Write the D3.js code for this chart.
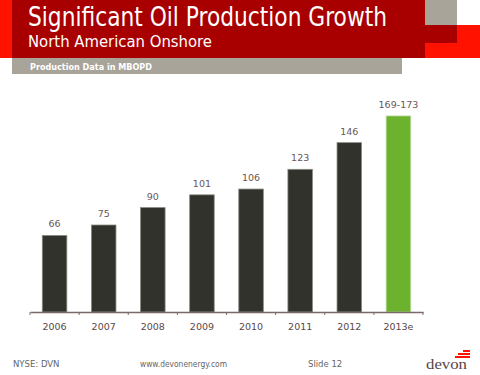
<!DOCTYPE html>
<html>
<head>
<meta charset="utf-8">
<script src="https://d3js.org/d3.v7.min.js"></script>
<style>
  body { margin: 0; background: #fff; }
  svg { display: block; font-family: "DejaVu Sans", Verdana, sans-serif; }
</style>
</head>
<body>
<div id="chart"></div>
<script>
// data (MBOPD)
var years = ["2006", "2007", "2008", "2009", "2010", "2011", "2012", "2013e"];
var production = [66, 75, 90, 101, 106, 123, 146, 169];
var labels = ["66", "75", "90", "101", "106", "123", "146", "169-173"];
var estimate = [false, false, false, false, false, false, false, true];

var width = 480, height = 375;

var svg = d3.select("#chart").append("svg")
    .attr("width", width)
    .attr("height", height);

// header blocks
svg.append("rect").attr("x", 0).attr("y", 0).attr("width", 12).attr("height", 58).attr("fill", "#ff1300");
svg.append("rect").attr("x", 425).attr("y", 25).attr("width", 55).attr("height", 33).attr("fill", "#ff1300");
svg.append("rect").attr("x", 425).attr("y", 0).attr("width", 32).attr("height", 25).attr("fill", "#a8a49a");
svg.append("rect").attr("x", 12).attr("y", 0).attr("width", 413).attr("height", 58).attr("fill", "#a80000");
svg.append("rect").attr("x", 425).attr("y", 25).attr("width", 32).attr("height", 18).attr("fill", "#a80000");
svg.append("rect").attr("x", 12).attr("y", 58).attr("width", 390).attr("height", 16).attr("fill", "#a8a49a");

svg.append("text")
    .attr("x", 28).attr("y", 26)
    .attr("fill", "#fff")
    .attr("font-family", "DejaVu Sans Condensed, DejaVu Sans, sans-serif")
    .attr("font-size", 26)
    .attr("textLength", 359).attr("lengthAdjust", "spacingAndGlyphs")
    .text("Significant Oil Production Growth");
svg.append("text")
    .attr("x", 28).attr("y", 47)
    .attr("fill", "#fff")
    .attr("font-family", "DejaVu Sans Condensed, DejaVu Sans, sans-serif")
    .attr("font-size", 16)
    .attr("textLength", 184).attr("lengthAdjust", "spacingAndGlyphs")
    .text("North American Onshore");
svg.append("text")
    .attr("x", 30).attr("y", 70)
    .attr("fill", "#fff")
    .attr("font-size", 9.5)
    .attr("font-weight", "bold")
    .attr("textLength", 122).attr("lengthAdjust", "spacingAndGlyphs")
    .text("Production Data in MBOPD");

// chart
var x = d3.scaleBand().domain(years).range([30, 423]).paddingInner(0.5).paddingOuter(0.25);
var y = d3.scaleLinear().domain([0, 200]).range([312, 80]);

svg.append("g")
    .selectAll("rect")
    .data(years)
    .join("rect")
    .attr("x", d => x(d))
    .attr("y", (d, i) => y(production[i]))
    .attr("width", x.bandwidth())
    .attr("height", (d, i) => y(0) - y(production[i]))
    .attr("fill", (d, i) => estimate[i] ? "#6db22f" : "#32322c")
    .attr("stroke", (d, i) => estimate[i] ? "#b8d89a" : "#8a8a84")
    .attr("stroke-width", 0.8);

svg.append("g")
    .selectAll("text")
    .data(years)
    .join("text")
    .attr("x", d => x(d) + x.bandwidth() / 2)
    .attr("y", (d, i) => y(production[i]) - 8)
    .attr("text-anchor", "middle")
    .attr("font-size", 9.5)
    .attr("fill", "#6a5656")
    .text((d, i) => labels[i]);

// x axis with ticks between bands
var axis = d3.axisBottom(x).tickSize(0).tickPadding(11);
var gx = svg.append("g")
    .attr("transform", "translate(0,312)")
    .call(axis);
gx.select(".domain").attr("stroke", "#7a6a6a").attr("stroke-width", 1.5);
gx.selectAll("text")
    .attr("font-family", "DejaVu Sans, sans-serif")
    .attr("font-size", 9.5)
    .attr("fill", "#5a4848");

var edges = d3.range(years.length + 1).map(i => 30 + i * x.step());
gx.selectAll(".sep")
    .data(edges)
    .join("line")
    .attr("class", "sep")
    .attr("x1", d => d).attr("x2", d => d)
    .attr("y1", 0).attr("y2", 3)
    .attr("stroke", "#7a6a6a")
    .attr("stroke-width", 1);

// footer
svg.append("text").attr("x", 13).attr("y", 367).attr("font-size", 8.5).attr("fill", "#666")
    .text("NYSE: DVN");
svg.append("text").attr("x", 140).attr("y", 367).attr("font-size", 8.5).attr("fill", "#666")
    .attr("textLength", 87).attr("lengthAdjust", "spacingAndGlyphs")
    .text("www.devonenergy.com");
svg.append("text").attr("x", 308).attr("y", 367).attr("font-size", 8.5).attr("fill", "#666")
    .text("Slide 12");

// devon logo
var logo = svg.append("g");
logo.append("rect").attr("x", 463).attr("y", 350).attr("width", 7).attr("height", 2).attr("fill", "#ff1300");
logo.append("rect").attr("x", 458).attr("y", 353).attr("width", 12).attr("height", 2).attr("fill", "#ff1300");
logo.append("rect").attr("x", 455).attr("y", 356).attr("width", 15).attr("height", 2).attr("fill", "#ff1300");
logo.append("text").attr("x", 426).attr("y", 369)
    .attr("font-family", "Liberation Serif, serif")
    .attr("font-size", 15)
    .attr("fill", "#5a4444")
    .attr("textLength", 41).attr("lengthAdjust", "spacingAndGlyphs")
    .text("devon");
</script>
</body>
</html>
